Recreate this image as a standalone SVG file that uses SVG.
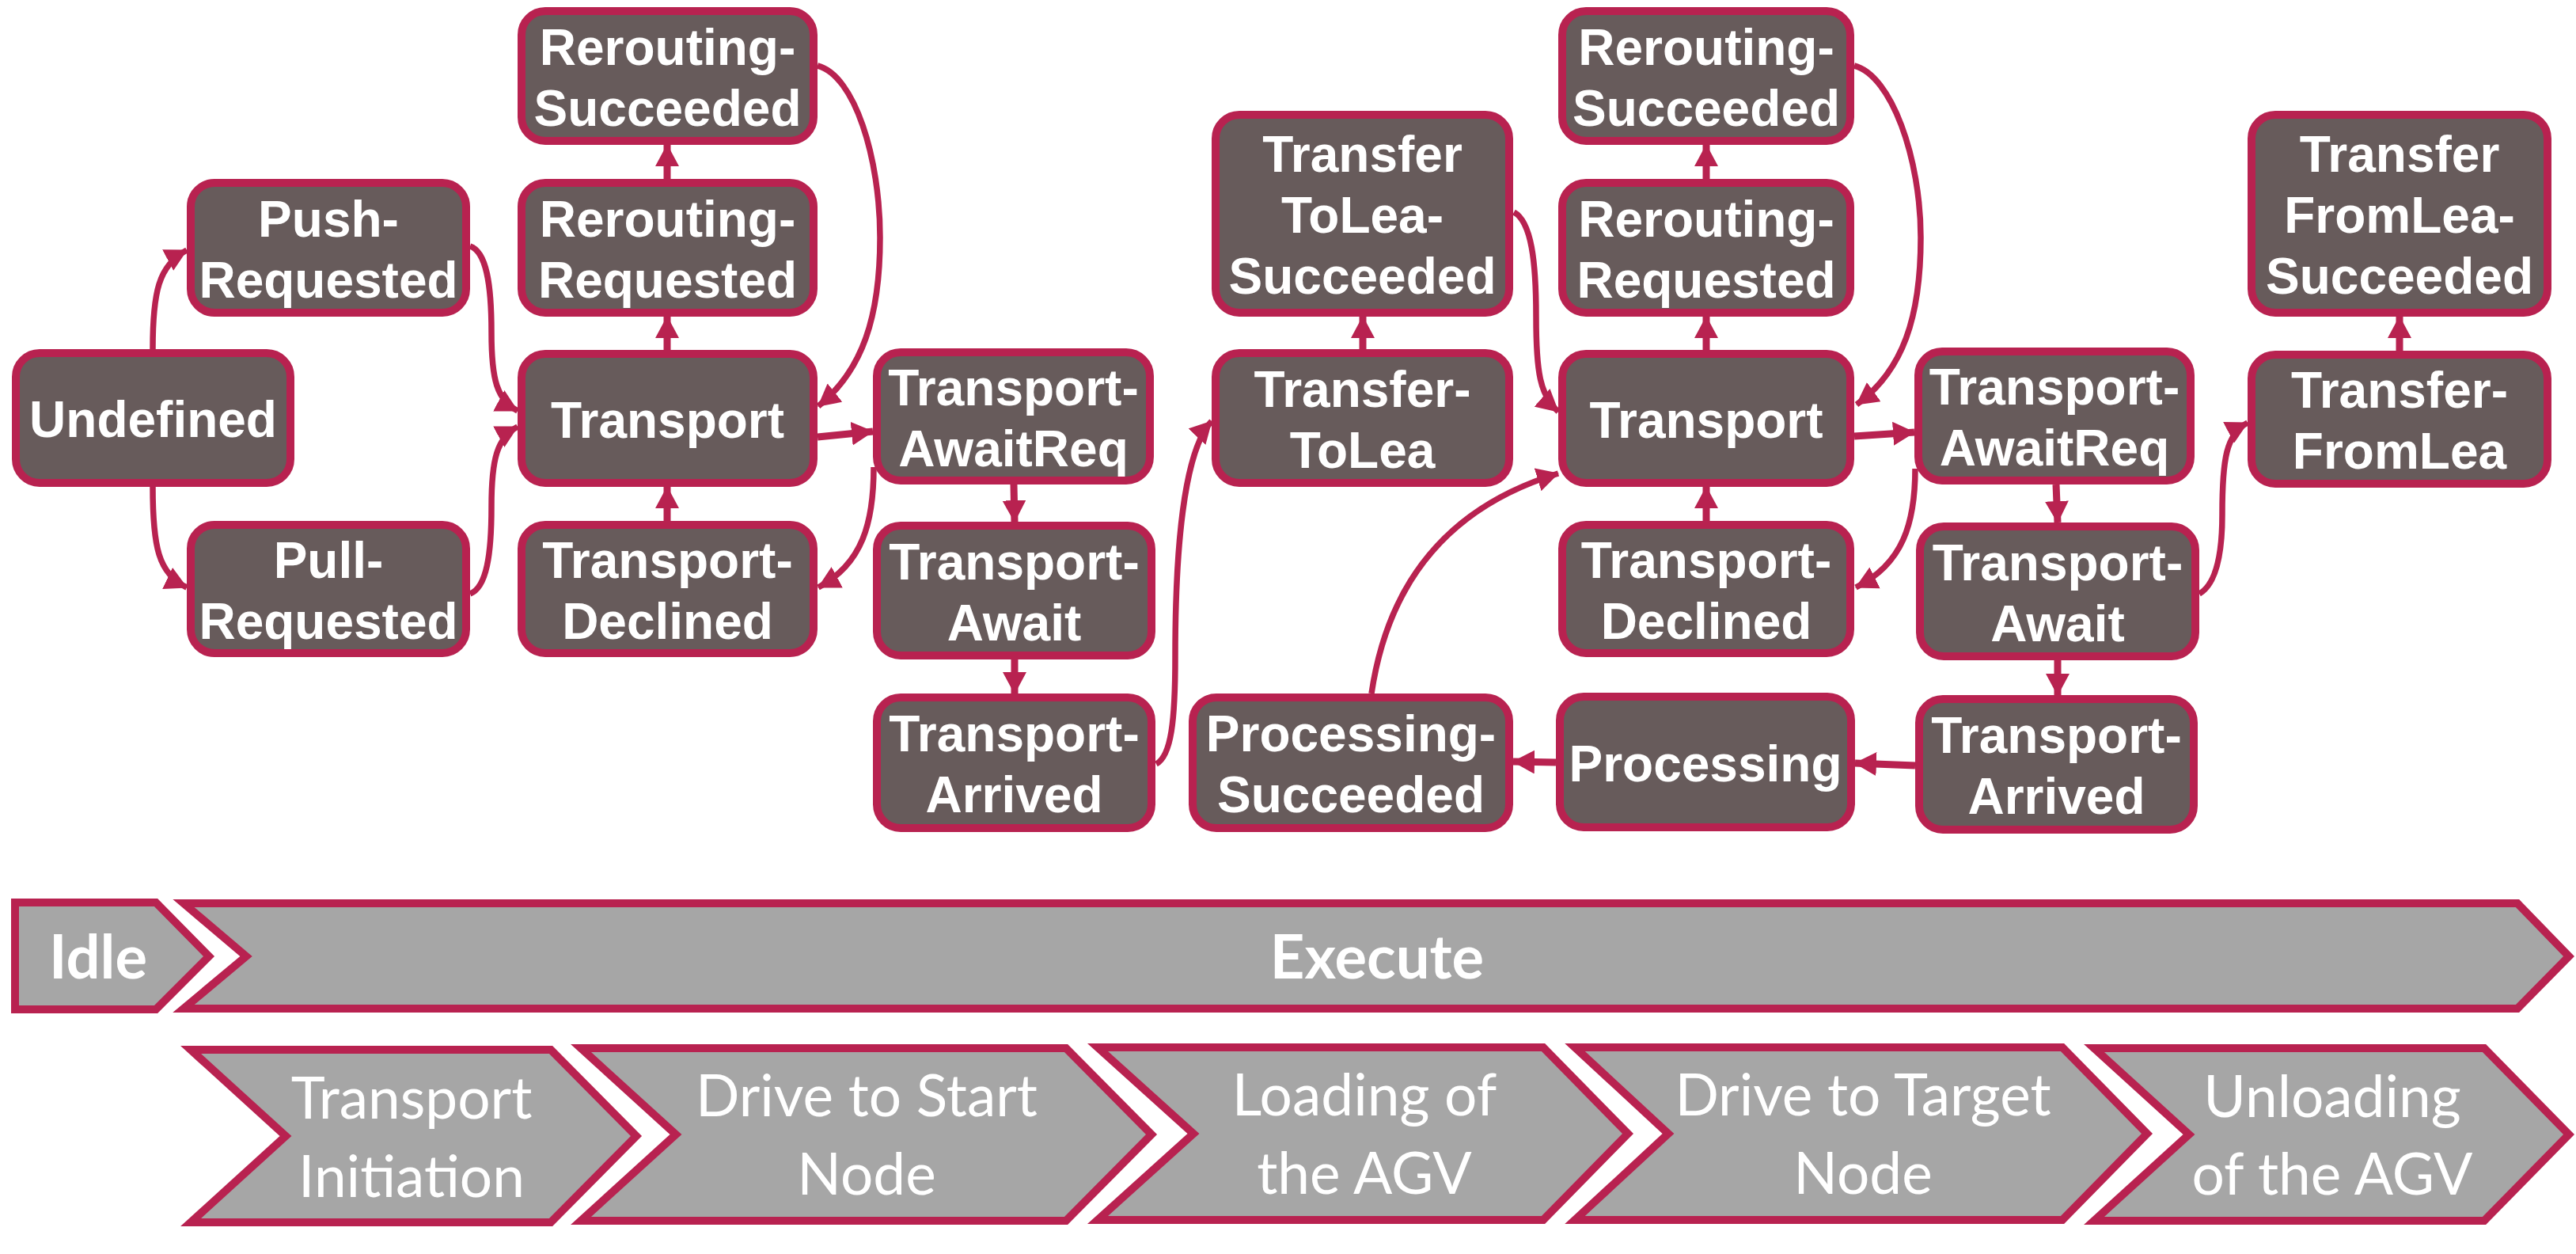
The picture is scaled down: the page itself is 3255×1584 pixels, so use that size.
<svg xmlns="http://www.w3.org/2000/svg" width="3255" height="1584" viewBox="0 0 3255 1584">
<style>
.n rect{fill:#675B5B;stroke:#B82250;stroke-width:10}
.n text{fill:#fff;font-family:"Liberation Sans",Arial,sans-serif;font-weight:bold;font-size:64px;text-anchor:middle}
.e path{fill:none;stroke:#B82250;stroke-width:7.5;marker-end:url(#ah)}
.e path.s{stroke-width:9}
.p polygon{fill:#A6A6A6;stroke:#B82250;stroke-width:10;stroke-linejoin:miter}
.p text{fill:#fff;font-family:Lato,"Open Sans",sans-serif;font-size:73px;text-anchor:middle}
.p text.b{font-weight:bold;font-size:76px}
</style>
<defs>
<marker id="ah" viewBox="0 0 28 30" refX="27" refY="15" markerWidth="28" markerHeight="30" markerUnits="userSpaceOnUse" orient="auto">
<path d="M0,0 L28,15 L0,30 z" fill="#B82250"/>
</marker>
</defs>
<rect width="3255" height="1584" fill="#fff"/>

<g id="connectors" class="e">
<path d="M193,441 C193,370 200,335 236,316"/>
<path d="M193,615 C193,690 200,725 236,742"/>
<path d="M594,311 C615,318 621,360 621,420 C621,480 628,505 654,519"/>
<path d="M594,750 C615,742 621,700 621,640 C621,580 628,553 654,539"/>
<path class="s" d="M843,442 L843,400"/>
<path class="s" d="M843,226 L843,183"/>
<path class="s" d="M843,658 L843,615"/>
<path d="M1033,83 C1080,95 1112,200 1112,300 C1112,400 1090,468 1034,513"/>
<path class="s" d="M1033,552 L1103,545"/>
<path d="M1104,590 C1104,660 1090,712 1034,742"/>
<path class="s" d="M1281,612 L1282,659"/>
<path class="s" d="M1282,833 L1282,876"/>
<path d="M1461,965 C1480,955 1485,910 1485,830 C1485,700 1495,570 1531,532"/>
<path class="s" d="M1722,441 L1722,400"/>
<path d="M1913,268 C1935,280 1941,330 1941,400 C1941,470 1946,500 1969,520"/>
<path d="M1733,876 Q1765,660 1969,598"/>
<path class="s" d="M1966,963 L1912,962"/>
<path class="s" d="M2420,967 L2344,964"/>
<path class="s" d="M2156,442 L2156,400"/>
<path class="s" d="M2156,226 L2156,183"/>
<path class="s" d="M2156,658 L2156,615"/>
<path d="M2343,83 C2390,95 2427,200 2427,300 C2427,400 2405,468 2346,511"/>
<path class="s" d="M2343,551 L2419,546"/>
<path d="M2420,592 C2420,660 2405,712 2345,742"/>
<path class="s" d="M2598,612 L2600,660"/>
<path class="s" d="M2600,834 L2600,878"/>
<path d="M2779,750 C2800,738 2808,700 2808,650 C2808,580 2813,548 2840,534"/>
<path class="s" d="M3032,443 L3032,400"/>
</g>

<g id="undefined" class="n"><rect x="20" y="446" width="347" height="164" rx="30"/><text x="193.5" y="552">Undefined</text></g>
<g id="push-requested" class="n"><rect x="241" y="231" width="348" height="164" rx="30"/><text x="415" y="298.5">Push-</text><text x="415" y="375.5">Requested</text></g>
<g id="pull-requested" class="n"><rect x="241" y="663" width="348" height="162" rx="30"/><text x="415" y="729.5">Pull-</text><text x="415" y="806.5">Requested</text></g>
<g id="rerouting-succeeded-1" class="n"><rect x="659" y="14" width="369" height="164" rx="30"/><text x="843.5" y="81.5">Rerouting-</text><text x="843.5" y="158.5">Succeeded</text></g>
<g id="rerouting-requested-1" class="n"><rect x="659" y="231" width="369" height="164" rx="30"/><text x="843.5" y="298.5">Rerouting-</text><text x="843.5" y="375.5">Requested</text></g>
<g id="transport-1" class="n"><rect x="659" y="447" width="369" height="163" rx="30"/><text x="843.5" y="552.5">Transport</text></g>
<g id="transport-declined-1" class="n"><rect x="659" y="663" width="369" height="162" rx="30"/><text x="843.5" y="729.5">Transport-</text><text x="843.5" y="806.5">Declined</text></g>
<g id="transport-awaitreq-1" class="n"><rect x="1108" y="445" width="345" height="162" rx="30"/><text x="1280.5" y="511.5">Transport-</text><text x="1280.5" y="588.5">AwaitReq</text></g>
<g id="transport-await-1" class="n"><rect x="1108" y="664" width="347" height="164" rx="30"/><text x="1281.5" y="731.5">Transport-</text><text x="1281.5" y="808.5">Await</text></g>
<g id="transport-arrived-1" class="n"><rect x="1108" y="881" width="347" height="165" rx="30"/><text x="1281.5" y="949">Transport-</text><text x="1281.5" y="1026">Arrived</text></g>
<g id="processing-succeeded" class="n"><rect x="1507" y="881" width="400" height="165" rx="30"/><text x="1707" y="949">Processing-</text><text x="1707" y="1026">Succeeded</text></g>
<g id="transfer-tolea" class="n"><rect x="1536" y="446" width="371" height="164" rx="30"/><text x="1721.5" y="513.5">Transfer-</text><text x="1721.5" y="590.5">ToLea</text></g>
<g id="transfer-tolea-succeeded" class="n"><rect x="1536" y="145" width="371" height="250" rx="30"/><text x="1721.5" y="217">Transfer</text><text x="1721.5" y="294">ToLea-</text><text x="1721.5" y="371">Succeeded</text></g>
<g id="rerouting-succeeded-2" class="n"><rect x="1974" y="14" width="364" height="164" rx="30"/><text x="2156" y="81.5">Rerouting-</text><text x="2156" y="158.5">Succeeded</text></g>
<g id="rerouting-requested-2" class="n"><rect x="1974" y="231" width="364" height="164" rx="30"/><text x="2156" y="298.5">Rerouting-</text><text x="2156" y="375.5">Requested</text></g>
<g id="transport-2" class="n"><rect x="1974" y="447" width="364" height="163" rx="30"/><text x="2156" y="552.5">Transport</text></g>
<g id="transport-declined-2" class="n"><rect x="1974" y="663" width="364" height="162" rx="30"/><text x="2156" y="729.5">Transport-</text><text x="2156" y="806.5">Declined</text></g>
<g id="processing" class="n"><rect x="1971" y="880" width="368" height="165" rx="30"/><text x="2155" y="986.5">Processing</text></g>
<g id="transport-awaitreq-2" class="n"><rect x="2424" y="444" width="344" height="163" rx="30"/><text x="2596" y="511">Transport-</text><text x="2596" y="588">AwaitReq</text></g>
<g id="transport-await-2" class="n"><rect x="2426" y="665" width="348" height="164" rx="30"/><text x="2600" y="732.5">Transport-</text><text x="2600" y="809.5">Await</text></g>
<g id="transport-arrived-2" class="n"><rect x="2425" y="883" width="347" height="165" rx="30"/><text x="2598.5" y="951">Transport-</text><text x="2598.5" y="1028">Arrived</text></g>
<g id="transfer-fromlea" class="n"><rect x="2845" y="448" width="374" height="163" rx="30"/><text x="3032" y="515">Transfer-</text><text x="3032" y="592">FromLea</text></g>
<g id="transfer-fromlea-succeeded" class="n"><rect x="2845" y="145" width="374" height="250" rx="30"/><text x="3032" y="217">Transfer</text><text x="3032" y="294">FromLea-</text><text x="3032" y="371">Succeeded</text></g>

<g id="phases" class="p">
<g id="idle"><polygon points="19,1140 197,1140 264,1208 197,1275 19,1275"/><text class="b" x="124" y="1236">Idle</text></g>
<g id="execute"><polygon points="232,1141 3181,1141 3246,1208 3181,1274 232,1274 311,1208"/><text class="b" x="1740" y="1236">Execute</text></g>
<g id="transport-initiation"><polygon points="241,1326 696,1326 804,1435 696,1544 241,1544 361,1435"/><text x="520" y="1413">Transport</text><text x="520" y="1512">Initiation</text></g>
<g id="drive-to-start-node"><polygon points="734,1324 1347,1324 1455,1433 1347,1542 734,1542 854,1433"/><text x="1095" y="1410">Drive to Start</text><text x="1095" y="1509">Node</text></g>
<g id="loading-of-the-agv"><polygon points="1387,1323 1950,1323 2057,1432 1950,1541 1387,1541 1508,1432"/><text x="1724" y="1409">Loading of</text><text x="1724" y="1508">the AGV</text></g>
<g id="drive-to-target-node"><polygon points="1990,1323 2606,1323 2713,1432 2606,1541 1990,1541 2108,1432"/><text x="2354" y="1409">Drive to Target</text><text x="2354" y="1508">Node</text></g>
<g id="unloading-of-the-agv"><polygon points="2646,1324 3139,1324 3246,1433 3139,1542 2646,1542 2766,1433"/><text x="2947" y="1411">Unloading</text><text x="2947" y="1509">of the AGV</text></g>
</g>
</svg>
